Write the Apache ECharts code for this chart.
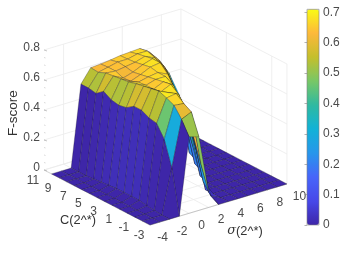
<!DOCTYPE html>
<html><head><meta charset="utf-8">
<style>html,body{margin:0;padding:0;background:#fff}#c{width:346px;height:254px}</style>
<script src="https://cdn.jsdelivr.net/npm/echarts@6/dist/echarts.min.js"></script>
</head><body><div id="c"></div>
<script>
const sigmaValues = [-4,-3,-2,-1,0,1,2,3,4,5,6,7,8,9,10];
const cValues = [-3,-2,-1,0,1,2,3,4,5,6,7,8,9,10];
const fScore_cm3 = [0,0,0,0,.51,.49,.10,0,0,0,0,0,0,0,0];
const fScore_cm2 = [0,0,0,.295,.60,.63,.26,.03,0,0,0,0,0,0,0];
const fScore_cm1 = [0,0,.005,.46,.667,.66,.42,.10,0,0,0,0,0,0,0];
const fScore_c0  = [0,0,.01,.54,.69,.70,.58,.30,0,0,0,0,0,0,0];
const fScore_c1  = [0,0,.02,.55,.71,.68,.65,.50,.20,0,0,0,0,0,0];
const fScore_c2  = [0,0,.02,.575,.70,.66,.69,.57,.36,.02,0,0,0,0,0];
const fScore_c3  = [0,0,.02,.575,.69,.65,.68,.64,.47,.20,0,0,0,0,0];
const fScore_c4  = [0,0,.02,.54,.68,.65,.67,.67,.56,.34,.03,0,0,0,0];
const fScore_c5  = [0,0,.015,.53,.666,.645,.66,.67,.64,.48,.22,0,0,0,0];
const fScore_c6  = [0,0,.01,.54,.66,.625,.65,.68,.69,.56,.40,.03,0,0,0];
const fScore_c7  = [0,0,.005,.57,.653,.62,.64,.67,.69,.63,.48,.25,0,0,0];
const fScore_c8  = [0,0,0,.53,.647,.64,.65,.66,.68,.65,.57,.40,.15,0,0];
const fScore_c9  = [0,0,0,.54,.625,.64,.655,.655,.67,.67,.60,.50,.32,.12,0];
const fScore_c10 = [0,0,0,.54,.63,.635,.642,.652,.656,.66,.617,.545,.44,.28,0];
const fScore = [fScore_cm3,fScore_cm2,fScore_cm1,fScore_c0,fScore_c1,fScore_c2,fScore_c3,fScore_c4,fScore_c5,fScore_c6,fScore_c7,fScore_c8,fScore_c9,fScore_c10];
const sigmaTicks = [-4,-2,0,2,4,6,8,10];
const cTicks = [-3,-1,1,3,5,7,9,11];
const zTicks = [0,0.2,0.4,0.6,0.8];
const colorbarTicks = [0,0.1,0.2,0.3,0.4,0.5,0.6,0.7];
const sigmaWallLines = [-2,4,8,10];
const cWallLines = [-3,-1,5];
const parula = ['#3e26a8','#4748e9','#4765fa','#2796eb','#11b2d7','#2fb9a1','#78c766','#c4bf2c','#fdb83a','#f9fb15'];

// view transform of the 3-D box onto the page
const view = {ox:150, oy:225, sx:9.78, sy:-2.93, cx:-7.57, cy:-3.93, zy:-150};
function project(api, s, c, z){
  const px = view.ox + view.sx*(s-sigmaTicks[0]) + view.cx*(c-cTicks[0]);
  const py = view.oy + view.sy*(s-sigmaTicks[0]) + view.cy*(c-cTicks[0]) + view.zy*z;
  return api.coord([px, py]);
}
// back-to-front painter order
const cells = [];
for (let i=cValues.length-2;i>=0;i--) for (let j=sigmaValues.length-2;j>=0;j--)
  cells.push([j,i,fScore[i][j]]);

function renderCell(params, api){
  const j=api.value(0), i=api.value(1);
  const s0=sigmaValues[j], s1=sigmaValues[j+1], c0=cValues[i], c1=cValues[i+1];
  const pts=[project(api,s0,c0,fScore[i][j]),project(api,s1,c0,fScore[i][j+1]),
             project(api,s1,c1,fScore[i+1][j+1]),project(api,s0,c1,fScore[i+1][j])];
  return {type:'polygon',shape:{points:pts},
    style:{fill:api.visual('color'),stroke:'rgba(20,15,30,0.5)',lineWidth:0.55,lineJoin:'round'}};
}
const GRID='#ebebeb', TXT='#4a4a4a', FONT='"Liberation Sans",Arial,sans-serif';
function renderScene(params, api){
  const kids=[];
  const sMin=sigmaTicks[0], sMax=sigmaTicks[sigmaTicks.length-1];
  const cMin=cTicks[0], cMax=cTicks[cTicks.length-1];
  const zMax=zTicks[zTicks.length-1];
  const line=(a,b,col,w)=>kids.push({type:'line',shape:{x1:a[0],y1:a[1],x2:b[0],y2:b[1]},style:{stroke:col,lineWidth:w||0.8}});
  const P=(s,c,z)=>project(api,s,c,z);
  // floor
  sigmaTicks.forEach(s=>line(P(s,cMin,0),P(s,cMax,0),GRID));
  cTicks.forEach(c=>line(P(sMin,c,0),P(sMax,c,0),GRID));
  // walls
  zTicks.forEach(z=>{ line(P(sMin,cMax,z),P(sMax,cMax,z),GRID); line(P(sMax,cMax,z),P(sMax,cMin,z),GRID); });
  sigmaWallLines.forEach(s=>line(P(s,cMax,0),P(s,cMax,zMax),GRID));
  cWallLines.forEach(c=>line(P(sMax,c,0),P(sMax,c,zMax),GRID));
  // axes
  line(P(sMin,cMin,0),P(sMax,cMin,0),'#a8a8a8',0.6);
  line(P(sMin,cMin,0),P(sMin,cMax,0),'#c4c4c4',0.6);
  const text=(t,p,dx,dy,align,extra)=>kids.push({type:'text',x:p[0]+dx,y:p[1]+dy,
    style:Object.assign({text:t,fill:TXT,font:'12px '+FONT,textAlign:align||'center',textVerticalAlign:'middle'},extra||{})});
  sigmaTicks.forEach(s=>text(String(s),P(s,cMin,0),12.5,12.5));
  cTicks.forEach(c=>text(String(c),P(sMin,c,0),-11,10.5));
  zTicks.forEach(z=>{
    const b=P(sMin,cMax,z);
    line(b,[b[0]+3,b[1]+1],'#a0a0a0',0.6);
    text(String(z),b,-4,-2,'right');
  });
  for(let z=0.05;z<zMax;z+=0.05){
    const b=P(sMin,cMax,z);
    line(b,[b[0]+1.5,b[1]+0.5],'#c0c0c0',0.6);
  }
  kids.push({type:'text',x:13,y:113,rotation:Math.PI/2,style:{text:'F-score',fill:'#333',font:'13.5px '+FONT,textAlign:'center',textVerticalAlign:'middle'}});
  kids.push({type:'text',x:78,y:220,style:{text:'C(2^*)',fill:'#333',font:'12.8px '+FONT,textAlign:'center',textVerticalAlign:'middle'}});
  kids.push({type:'text',x:245,y:231,style:{text:'{i|σ}(2^*)',fill:'#333',font:'12.8px '+FONT,textAlign:'center',textVerticalAlign:'middle',
    rich:{i:{fontStyle:'italic',fontSize:12.8,fontFamily:'"DejaVu Serif",serif',fill:'#333'}}}});
  return {type:'group',children:kids};
}
const chart=echarts.init(document.getElementById('c'),null,{renderer:'canvas'});
chart.setOption({
  animation:false,
  backgroundColor:'#fff',
  grid:[
    {left:0,top:0,width:346,height:254,show:false},
    {left:307,top:9.3,width:12,height:215.7,show:true,borderColor:'#7f7f7f',borderWidth:0.6,backgroundColor:'transparent',z:5}
  ],
  xAxis:[
    {gridIndex:0,type:'value',min:0,max:346,show:false},
    {gridIndex:1,type:'value',min:0,max:1,show:false}
  ],
  yAxis:[
    {gridIndex:0,type:'value',min:0,max:254,inverse:true,show:false},
    {gridIndex:1,type:'value',min:0,max:0.71,position:'right',z:6,
     axisLine:{show:false},splitLine:{show:false},
     axisTick:{show:true,inside:true,length:2.5,lineStyle:{color:'#7f7f7f',width:0.6},customValues:colorbarTicks},
     axisLabel:{margin:4,color:TXT,fontSize:12,fontFamily:FONT,customValues:colorbarTicks,formatter:v=>String(v)}}
  ],
  visualMap:{type:'continuous',seriesIndex:1,dimension:2,min:0,max:0.71,left:307,top:9.3,itemWidth:12,itemHeight:215.7,padding:0,
    calculable:false,realtime:false,text:null,showLabel:false,hoverLink:false,inRange:{color:parula}},
  series:[
    {type:'custom',coordinateSystem:'cartesian2d',xAxisIndex:0,yAxisIndex:0,data:[[0,0]],renderItem:renderScene,silent:true,z:1,clip:false},
    {type:'custom',coordinateSystem:'cartesian2d',xAxisIndex:0,yAxisIndex:0,data:cells,encode:{x:0,y:1},renderItem:renderCell,silent:true,z:2,clip:false}
  ]
});
</script></body></html>
